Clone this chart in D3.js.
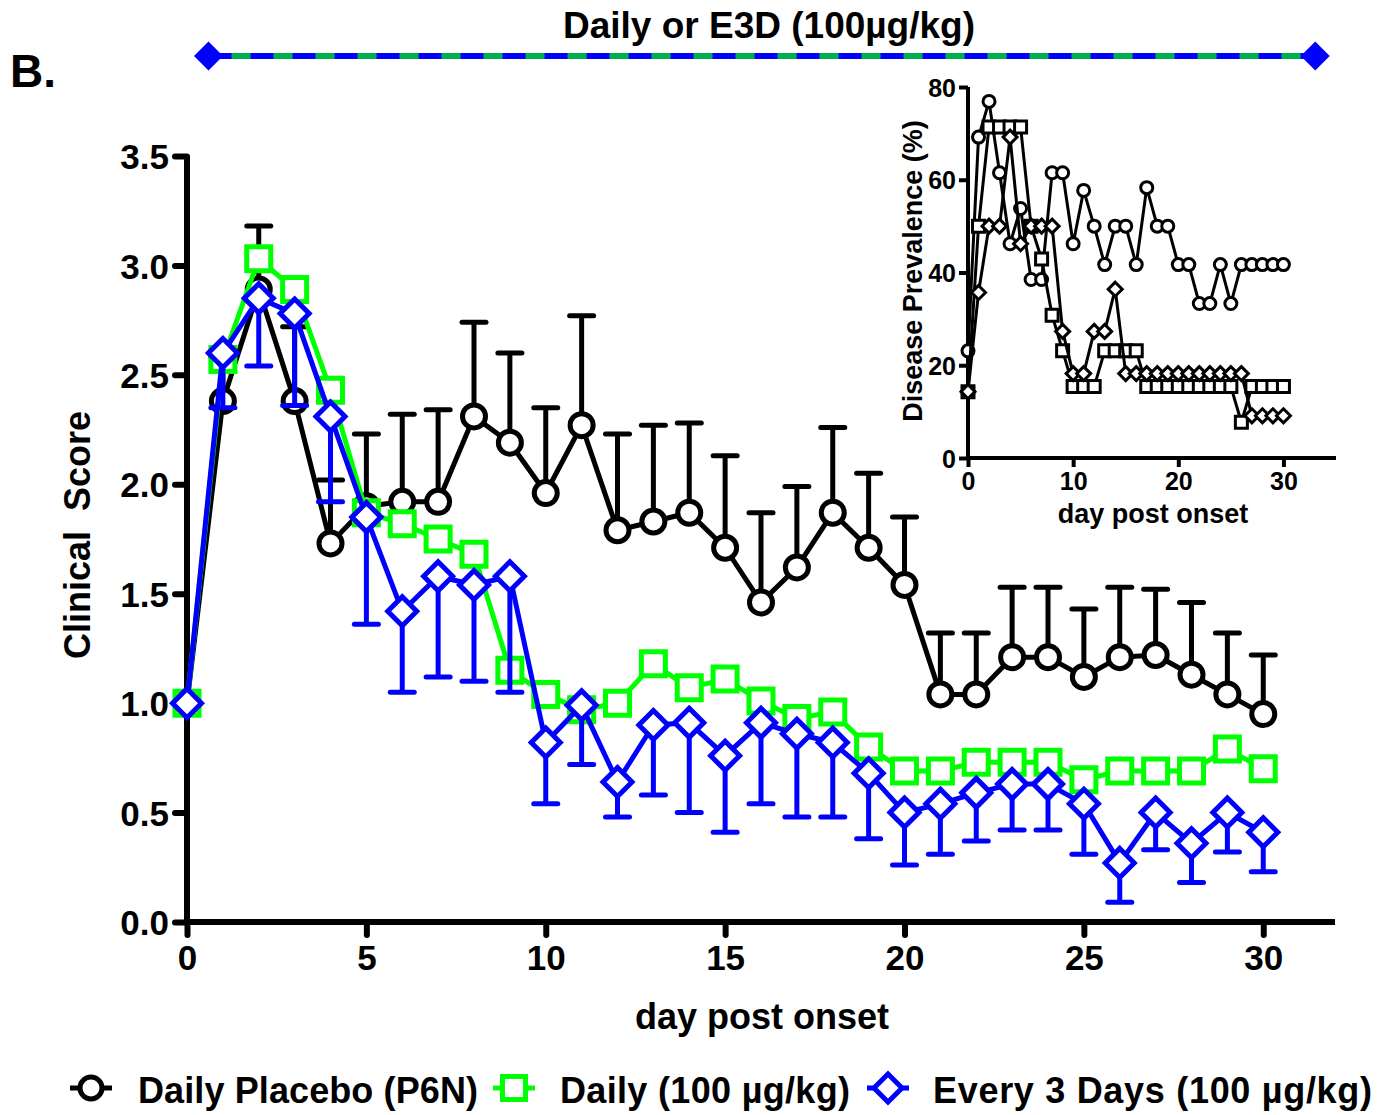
<!DOCTYPE html>
<html>
<head>
<meta charset="utf-8">
<script src="https://cdn.jsdelivr.net/npm/d3@7"></script>
<style>
  body { margin: 0; background: #fff; }
  svg { display: block; }
  text { font-family: "Liberation Sans", Arial, sans-serif; font-weight: bold; fill: #000; }
</style>
</head>
<body>
<svg id="chart" width="1378" height="1115"></svg>
<script>
// ---------- DATA ----------
const days = [0,1,2,3,4,5,6,7,8,9,10,11,12,13,14,15,16,17,18,19,20,21,22,23,24,25,26,27,28,29,30];

const placeboMean = [1.00,2.38,2.89,2.38,1.73,1.90,1.92,1.92,2.31,2.19,1.96,2.27,1.79,1.83,1.87,1.71,1.46,1.62,1.87,1.71,1.54,1.04,1.04,1.21,1.21,1.12,1.21,1.22,1.13,1.04,0.95];
const placeboSEM  = [0.00,0.20,0.29,0.34,0.29,0.33,0.40,0.42,0.43,0.41,0.39,0.50,0.44,0.44,0.41,0.42,0.41,0.37,0.39,0.34,0.31,0.28,0.28,0.32,0.32,0.31,0.32,0.30,0.33,0.28,0.27];

const dailyMean   = [1.00,2.57,3.03,2.89,2.43,1.87,1.82,1.75,1.68,1.15,1.04,0.97,1.00,1.18,1.07,1.11,1.01,0.93,0.96,0.80,0.69,0.69,0.73,0.73,0.73,0.65,0.69,0.69,0.69,0.79,0.70];

const e3dMean     = [1.00,2.60,2.85,2.78,2.31,1.85,1.42,1.58,1.54,1.58,0.82,0.99,0.64,0.90,0.91,0.76,0.91,0.86,0.82,0.68,0.50,0.54,0.59,0.63,0.63,0.54,0.27,0.50,0.36,0.50,0.41];
const e3dSEM      = [0.00,0.25,0.31,0.42,0.39,0.49,0.37,0.46,0.44,0.53,0.28,0.27,0.16,0.32,0.41,0.35,0.37,0.38,0.34,0.30,0.24,0.23,0.22,0.21,0.21,0.23,0.18,0.17,0.18,0.18,0.18];

// inset: disease prevalence (%)
const prevPlacebo = [23.1,69.2,76.9,61.5,46.2,53.8,38.5,38.5,61.5,61.5,46.2,57.7,50.0,41.7,50.0,50.0,41.7,58.3,50.0,50.0,41.7,41.7,33.3,33.3,41.7,33.3,41.7,41.7,41.7,41.7,41.7];
const prevDaily   = [14.3,50.0,71.4,71.4,71.4,71.4,50.0,42.9,30.8,23.1,15.4,15.4,15.4,23.1,23.1,23.1,23.1,15.4,15.4,15.4,15.4,15.4,15.4,15.4,15.4,15.4,7.7,15.4,15.4,15.4,15.4];
const prevE3D     = [14.3,35.7,50.0,50.0,69.2,46.2,50.0,50.0,50.0,27.3,18.2,18.2,27.3,27.3,36.4,18.2,18.2,18.2,18.2,18.2,18.2,18.2,18.2,18.2,18.2,18.2,18.2,9.1,9.1,9.1,9.1];

const mainXTicks = [0,5,10,15,20,25,30];
const mainYTicks = [0.0,0.5,1.0,1.5,2.0,2.5,3.0,3.5];
const insetXTicks = [0,10,20,30];
const insetYTicks = [0,20,40,60,80];

const treatmentSpan = [0.6, 31.45];
const legendLabels = ["Daily Placebo (P6N)", "Daily (100 \u00B5g/kg)", "Every 3 Days (100 \u00B5g/kg)"];
const titleText = "Daily or E3D (100\u00B5g/kg)";

// ---------- SETUP ----------
const svg = d3.select("#chart");
const BLACK = "#000000", GREEN = "#00FF00", BLUE = "#0000FF", BARGREEN = "#00B050";

const x = d3.scaleLinear().domain([0, 32]).range([187, 1335]);
const y = d3.scaleLinear().domain([0, 3.5]).range([922, 156]);

const ix = d3.scaleLinear().domain([0, 35]).range([968, 1336]);
const iy = d3.scaleLinear().domain([0, 80]).range([458, 87]);

function markerPath(shape, s) {
  if (shape === "circle") return d3.symbol().type(d3.symbolCircle).size(Math.PI * s * s)();
  if (shape === "square") return `M${-s},${-s}H${s}V${s}H${-s}Z`;
  return `M0,${-s}L${s},0L0,${s}L${-s},0Z`;
}

// ---------- TITLE / BAR ----------
svg.append("text").attr("x", 10).attr("y", 87).attr("font-size", 46).text("B.");
svg.append("text").attr("x", 769).attr("y", 38).attr("text-anchor", "middle")
  .attr("font-size", 37).text(titleText);

svg.append("line").attr("x1", x(treatmentSpan[0])).attr("x2", x(treatmentSpan[1]))
  .attr("y1", 56).attr("y2", 56).attr("stroke", BARGREEN).attr("stroke-width", 6);
svg.append("line").attr("x1", x(treatmentSpan[0])).attr("x2", x(treatmentSpan[1]))
  .attr("y1", 56).attr("y2", 56).attr("stroke", BLUE).attr("stroke-width", 6)
  .attr("stroke-dasharray", "23,19");
treatmentSpan.forEach(d => {
  svg.append("path").attr("d", markerPath("diamond", 14.5))
    .attr("transform", `translate(${x(d)},56)`).attr("fill", BLUE);
});

// ---------- MAIN AXES ----------
const gx = svg.append("g").attr("transform", `translate(0,${y(0)})`)
  .call(d3.axisBottom(x).tickValues(mainXTicks).tickSize(13).tickPadding(10).tickFormat(d3.format("d")));
const gy = svg.append("g").attr("transform", `translate(${x(0)},0)`)
  .call(d3.axisLeft(y).tickValues(mainYTicks).tickSize(12).tickPadding(6).tickFormat(d3.format(".1f")));
[gx, gy].forEach(g => {
  g.select(".domain").remove();
  g.selectAll(".tick line").attr("stroke", BLACK).attr("stroke-width", 6).attr("stroke-linecap", "round");
  g.selectAll(".tick text").attr("font-size", 35).attr("font-family", "Liberation Sans, Arial").attr("font-weight", "bold").attr("fill", BLACK);
});
gy.selectAll(".tick text").attr("dy", "0.36em");
svg.append("line").attr("x1", x(0)).attr("x2", x(32)).attr("y1", y(0)).attr("y2", y(0))
  .attr("stroke", BLACK).attr("stroke-width", 6);
svg.append("line").attr("x1", x(0)).attr("x2", x(0)).attr("y1", y(3.5)).attr("y2", y(0) + 3)
  .attr("stroke", BLACK).attr("stroke-width", 6);

svg.append("text").attr("transform", `translate(90,535) rotate(-90)`).attr("text-anchor", "middle")
  .attr("font-size", 36).attr("xml:space", "preserve").style("white-space", "pre").text("Clinical  Score");
svg.append("text").attr("x", 762).attr("y", 1029).attr("text-anchor", "middle")
  .attr("font-size", 36).text("day post onset");

// ---------- MAIN SERIES ----------
function drawSeries(mean, sem, dir, color, shape, size) {
  const g = svg.append("g");
  if (sem) {
    days.forEach((d, i) => {
      if (sem[i] <= 0) return;
      const yEnd = y(mean[i] + dir * sem[i]);
      g.append("line").attr("x1", x(d)).attr("x2", x(d)).attr("y1", y(mean[i])).attr("y2", yEnd)
        .attr("stroke", color).attr("stroke-width", 5);
      g.append("line").attr("x1", x(d) - 12).attr("x2", x(d) + 12).attr("y1", yEnd).attr("y2", yEnd)
        .attr("stroke", color).attr("stroke-width", 5).attr("stroke-linecap", "round");
    });
  }
  g.append("path").datum(days)
    .attr("d", d3.line().x(d => x(d)).y((d, i) => y(mean[i])))
    .attr("fill", "none").attr("stroke", color).attr("stroke-width", 5).attr("stroke-linejoin", "round");
  g.selectAll("path.m").data(days).join("path").attr("class", "m")
    .attr("d", markerPath(shape, size))
    .attr("transform", (d, i) => `translate(${x(d)},${y(mean[i])})`)
    .attr("fill", "#fff").attr("stroke", color).attr("stroke-width", 5);
}
drawSeries(placeboMean, placeboSEM, 1, BLACK, "circle", 11.5);
drawSeries(dailyMean, null, 1, GREEN, "square", 12);
drawSeries(e3dMean, e3dSEM, -1, BLUE, "diamond", 14.5);

// ---------- INSET ----------
const igx = svg.append("g").attr("transform", `translate(0,${iy(0)})`)
  .call(d3.axisBottom(ix).tickValues(insetXTicks).tickSize(9).tickPadding(5).tickFormat(d3.format("d")));
const igy = svg.append("g").attr("transform", `translate(${ix(0)},0)`)
  .call(d3.axisLeft(iy).tickValues(insetYTicks).tickSize(9).tickPadding(3).tickFormat(d3.format("d")));
[igx, igy].forEach(g => {
  g.select(".domain").remove();
  g.selectAll(".tick line").attr("stroke", BLACK).attr("stroke-width", 4);
  g.selectAll(".tick text").attr("font-size", 25).attr("font-family", "Liberation Sans, Arial").attr("font-weight", "bold").attr("fill", BLACK);
});
igy.selectAll(".tick text").attr("dy", "0.36em");
svg.append("line").attr("x1", ix(0)).attr("x2", ix(35)).attr("y1", iy(0)).attr("y2", iy(0))
  .attr("stroke", BLACK).attr("stroke-width", 4);
svg.append("line").attr("x1", ix(0)).attr("x2", ix(0)).attr("y1", iy(80)).attr("y2", iy(0) + 2)
  .attr("stroke", BLACK).attr("stroke-width", 4);
svg.append("text").attr("transform", `translate(922,271) rotate(-90)`).attr("text-anchor", "middle")
  .attr("font-size", 27).text("Disease Prevalence (%)");
svg.append("text").attr("x", 1153).attr("y", 523).attr("text-anchor", "middle")
  .attr("font-size", 27).text("day post onset");

function drawInset(vals, shape, size) {
  const g = svg.append("g");
  g.append("path").datum(days)
    .attr("d", d3.line().x(d => ix(d)).y((d, i) => iy(vals[i])))
    .attr("fill", "none").attr("stroke", BLACK).attr("stroke-width", 3).attr("stroke-linejoin", "round");
  g.selectAll("path.m").data(days).join("path").attr("class", "m")
    .attr("d", markerPath(shape, size))
    .attr("transform", (d, i) => `translate(${ix(d)},${iy(vals[i])})`)
    .attr("fill", "#fff").attr("stroke", BLACK).attr("stroke-width", 3);
}
drawInset(prevPlacebo, "circle", 6);
drawInset(prevDaily, "square", 6);
drawInset(prevE3D, "diamond", 7);

// ---------- LEGEND ----------
const legendItems = [
  { label: legendLabels[0], color: BLACK, shape: "circle", size: 11, cx: 91, tx: 138, w: 340 },
  { label: legendLabels[1], color: GREEN, shape: "square", size: 11.5, cx: 514, tx: 560, w: 290 },
  { label: legendLabels[2], color: BLUE, shape: "diamond", size: 14, cx: 888, tx: 933, w: 439 }
];
legendItems.forEach(it => {
  svg.append("line").attr("x1", it.cx - 21).attr("x2", it.cx + 21).attr("y1", 1088).attr("y2", 1088)
    .attr("stroke", it.color).attr("stroke-width", 5);
  svg.append("path").attr("d", markerPath(it.shape, it.size)).attr("transform", `translate(${it.cx},1088)`)
    .attr("fill", "#fff").attr("stroke", it.color).attr("stroke-width", 5);
  svg.append("text").attr("x", it.tx).attr("y", 1103).attr("font-size", 36)
    .attr("textLength", it.w).attr("lengthAdjust", "spacing").text(it.label);
});
</script>
</body>
</html>
